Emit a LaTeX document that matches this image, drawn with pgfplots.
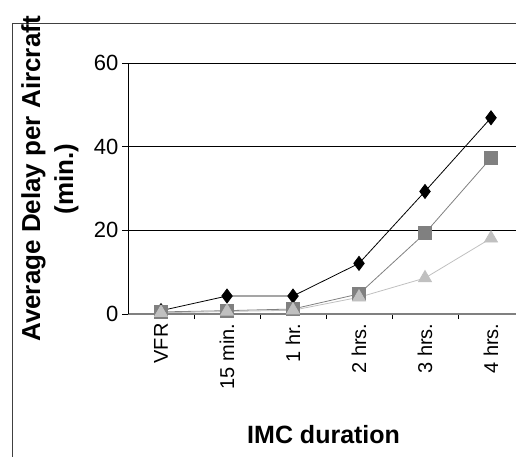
\documentclass[border=0pt]{standalone}
\usepackage{pgfplots}
\pgfplotsset{compat=1.18}
\usepackage{fontspec}
\setmainfont{Liberation Sans}
\definecolor{mgray}{HTML}{808080}
\definecolor{lgray}{HTML}{C0C0C0}
\begin{document}
\begin{tikzpicture}
\path[use as bounding box] (0,0) rectangle (516pt,456pt);
\clip (0,0) rectangle (516pt,456pt);
\draw[black!75, line width=1pt] (12pt,-10pt) -- (12pt,432pt) -- (530pt,432pt);
\begin{axis}[
  at={(128pt,142pt)}, anchor=south west,
  scale only axis, width=396pt, height=251pt,
  xmin=-0.5, xmax=5.5, ymin=0, ymax=60,
  clip=false,
  axis x line*=bottom, axis y line*=left,
  x axis line style={draw=mgray, line width=1.6pt, -},
  y axis line style={draw=black, line width=0.8pt, -},
  xtick={0,...,5},
  xticklabels={VFR,15 min.,1 hr.,2 hrs.,3 hrs.,4 hrs.},
  x tick label style={rotate=90, anchor=east, font=\fontsize{20}{20}\selectfont},
  minor xtick={0.5,1.5,...,4.5},
  major x tick style={draw=none},
  minor x tick style={draw=black, line width=0.8pt},
  minor tick length=5pt,
  major tick length=6pt,
  tick align=outside,
  ytick={0,20,40,60},
  y tick style={draw=black, line width=0.8pt},
  y tick label style={font=\fontsize{22}{22}\selectfont},
  /pgf/number format/assume math mode=true,
  ymajorgrids, grid style={draw=black, line width=0.8pt},
  xlabel={IMC duration},
  xlabel style={at={(rel axis cs:0.494,-0.48)}, anchor=center, font=\fontsize{25}{25}\selectfont\bfseries},
  ylabel={Average Delay per Aircraft\\(min.)},
  ylabel style={at={(rel axis cs:-0.197,0.538)}, anchor=center, align=center, font=\fontsize{26}{33}\selectfont\bfseries},
]
\addplot[black, line width=0.8pt, mark=diamond*, mark size=7pt, mark options={fill=black, draw=black}]
  coordinates {(0,0.8) (1,4.3) (2,4.3) (3,12.1) (4,29.3) (5,46.9)};
\addplot[mgray, line width=0.8pt, mark=square*, mark size=6.5pt, mark options={fill=mgray, draw=mgray}]
  coordinates {(0,0.5) (1,0.8) (2,1.2) (3,4.8) (4,19.3) (5,37.3)};
\addplot[lgray, line width=0.8pt, mark=triangle*, mark size=7.5pt, mark options={fill=lgray, draw=lgray}]
  coordinates {(0,0.3) (1,0.6) (2,0.9) (3,4.0) (4,8.6) (5,18.1)};
\end{axis}
\end{tikzpicture}
\end{document}
